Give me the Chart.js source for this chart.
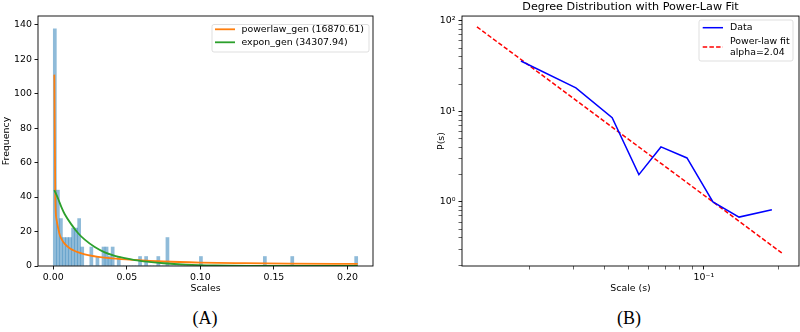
<!DOCTYPE html>
<html>
<head>
<meta charset="utf-8">
<title>Scale histogram and degree distribution</title>
<script src="https://cdn.jsdelivr.net/npm/chart.js"></script>
<style>
  body { margin: 0; background: #fff; width: 800px; height: 332px; position: relative; overflow: hidden; }
  .panel { position: absolute; top: 0; width: 400px; height: 300px; }
  #left { left: 0; }
  #right { left: 400px; }
  .tag { position: absolute; top: 308px; font-family: "Liberation Serif", serif; font-size: 18px;
         transform: translateX(-50%); color: #000; }
</style>
</head>
<body>
<div class="panel" id="left"><canvas id="histChart" width="400" height="300"></canvas></div>
<div class="panel" id="right"><canvas id="degreeChart" width="400" height="300"></canvas></div>
<div class="tag" style="left:205px">(A)</div>
<div class="tag" style="left:629px">(B)</div>

<script>
// ---- (A) histogram of scales with fitted pdfs ----
const nBins = 100;
const binWidth = 0.00207;
const binIndex   = [0, 1, 2, 3, 4, 5, 6, 7, 8, 9, 12, 14, 16, 17, 18, 19, 21, 28, 30, 34, 37, 48, 69, 78, 99];
const binDensity = [137.5, 44, 27.5, 16.5, 16.5, 16.5, 22, 22, 27.5, 11, 11, 5.5, 11, 11, 5.5, 11, 5.5,
                    5.5, 5.5, 5.5, 16.5, 5.5, 5.5, 5.5, 5.5];

const powerlawX = [0.0007, 0.0014, 0.0022, 0.0033, 0.0044, 0.0056, 0.0078, 0.0112, 0.0146, 0.0192,
                   0.0237, 0.0305, 0.040, 0.055, 0.075, 0.100, 0.130, 0.160, 0.207];
const powerlawY = [111, 38, 27, 22, 18, 15.6, 12.8, 10.3, 8.7, 7.3, 6.3, 5.3, 4.4, 3.5, 2.6, 2.0, 1.65, 1.4, 1.2];

const exponX = [0.0007, 0.0033, 0.0056, 0.0078, 0.0124, 0.0169, 0.0214, 0.0282, 0.035, 0.0418,
                0.0486, 0.0554, 0.065, 0.075, 0.090, 0.110, 0.140, 0.170, 0.207];
const exponY = [44, 39, 34, 30, 24, 19, 15.3, 11, 7.9, 5.9, 4.5, 3.4, 2.4, 1.6, 0.85, 0.35, 0.1, 0.03, 0.01];

const histXTicks = [0, 0.05, 0.10, 0.15, 0.20];
const histYTicks = [0, 20, 40, 60, 80, 100, 120, 140];

// ---- (B) degree distribution with power-law fit ----
const scaleS = [0.0184, 0.0306, 0.0428, 0.0548, 0.0672, 0.0855, 0.1087, 0.1384, 0.1875];
const probS  = [36, 18.2, 8.5, 2.0, 4.05, 3.06, 1.0, 0.68, 0.82];
const fitX = [0.01225, 0.2055];
const fitY = [85.9, 0.273];

const degXTicks = [0.02, 0.03, 0.04, 0.05, 0.06, 0.07, 0.08, 0.09, 0.1, 0.2];
const degYTicks = [0.2, 0.3, 0.4, 0.5, 0.6, 0.7, 0.8, 0.9, 1, 2, 3, 4, 5, 6, 7, 8, 9,
                   10, 20, 30, 40, 50, 60, 70, 80, 90, 100];
const degLabels = { 0.1: '10\u207B\u00B9', 1: '10\u2070', 10: '10\u00B9', 100: '10\u00B2' };

const font = { family: 'DejaVu Sans', size: 9.4 };

// box round the plot area, like matplotlib spines
const frame = {
  id: 'frame',
  afterDatasetsDraw(chart) {
    const { ctx, chartArea: a } = chart;
    ctx.save();
    ctx.strokeStyle = '#000';
    ctx.lineWidth = 0.9;
    ctx.strokeRect(a.left, a.top, a.right - a.left, a.bottom - a.top);
    ctx.restore();
  }
};

// legend drawn inside the axes
const boxLegend = {
  id: 'boxLegend',
  afterDraw(chart, args, o) {
    const ctx = chart.ctx;
    ctx.save();
    ctx.globalAlpha = 0.8;
    ctx.fillStyle = '#fff';
    ctx.strokeStyle = '#cccccc';
    ctx.lineWidth = 0.8;
    ctx.beginPath();
    ctx.roundRect(o.x, o.y, o.w, o.h, 2);
    ctx.fill();
    ctx.stroke();
    ctx.globalAlpha = 1;
    ctx.font = font.size + 'px "DejaVu Sans"';
    ctx.textBaseline = 'middle';
    ctx.fillStyle = '#000';
    o.rows.forEach(r => {
      const ds = chart.data.datasets[r.dataset];
      ctx.strokeStyle = ds.borderColor;
      ctx.lineWidth = ds.borderWidth;
      ctx.setLineDash(ds.borderDash || []);
      ctx.beginPath();
      ctx.moveTo(o.lineX[0], r.y);
      ctx.lineTo(o.lineX[1], r.y);
      ctx.stroke();
      ctx.setLineDash([]);
      const lines = ds.label.split('\n');
      const step = 10.8;
      lines.forEach((t, k) => {
        ctx.fillText(t, o.textX, r.y + (k - (lines.length - 1) / 2) * step);
      });
    });
    ctx.restore();
  }
};

function tickGrid() {
  return { display: true, drawOnChartArea: false, drawTicks: true, tickLength: 3.5,
           tickColor: '#000', tickWidth: 0.9, offset: false };
}

// ---- chart A ----
const histBars = [];
for (let i = 0; i < nBins; i++) histBars.push({ x: (i + 0.5) * binWidth, y: 0 });
binIndex.forEach((b, k) => { histBars[b].y = binDensity[k]; });

new Chart(document.getElementById('histChart'), {
  type: 'bar',
  data: {
    datasets: [
      { type: 'bar', label: 'data', data: histBars, backgroundColor: 'rgba(31,119,180,0.5)',
        borderWidth: 0, barPercentage: 1, categoryPercentage: 1, order: 3 },
      { type: 'line', label: 'powerlaw_gen (16870.61)', data: powerlawX.map((x, i) => ({ x, y: powerlawY[i] })),
        borderColor: '#ff7f0e', borderWidth: 1.8, pointRadius: 0, cubicInterpolationMode: 'monotone', order: 1 },
      { type: 'line', label: 'expon_gen (34307.94)', data: exponX.map((x, i) => ({ x, y: exponY[i] })),
        borderColor: '#2ca02c', borderWidth: 1.8, pointRadius: 0, cubicInterpolationMode: 'monotone', order: 0 }
    ]
  },
  options: {
    responsive: false,
    animation: false,
    layout: { padding: { left: 0, right: 27, top: 16, bottom: 0 } },
    scales: {
      x: {
        type: 'linear', min: -0.0104, max: 0.2174, offset: false,
        grid: tickGrid(), border: { display: false },
        afterBuildTicks: s => { s.ticks = histXTicks.map(v => ({ value: v })); },
        ticks: { color: '#000', font, padding: 2, maxRotation: 0, autoSkip: false, callback: v => v.toFixed(2) },
        title: { display: true, text: 'Scales', color: '#000', font, padding: { top: 0, bottom: 5.5 } },
        afterFit: s => { s.height = 34; }
      },
      y: {
        type: 'linear', min: 0, max: 145,
        grid: tickGrid(), border: { display: false },
        afterBuildTicks: s => { s.ticks = histYTicks.map(v => ({ value: v })); },
        ticks: { color: '#000', font, padding: 2.5, autoSkip: false },
        title: { display: true, text: 'Frequency', color: '#000', font, padding: { top: 0.5, bottom: 0 } },
        afterFit: s => { s.width = 38; }
      }
    },
    plugins: {
      legend: { display: false },
      tooltip: { enabled: false },
      boxLegend: { x: 212, y: 24.5, w: 157, h: 27.5, lineX: [215, 235], textX: 241.5,
                   rows: [{ dataset: 1, y: 29.3 }, { dataset: 2, y: 42.3 }] }
    }
  },
  plugins: [frame, boxLegend]
});

// ---- chart B ----
new Chart(document.getElementById('degreeChart'), {
  type: 'line',
  data: {
    datasets: [
      { label: 'Data', data: scaleS.map((x, i) => ({ x, y: probS[i] })),
        borderColor: '#0000ff', borderWidth: 1.5, pointRadius: 0, tension: 0 },
      { label: 'Power-law fit\nalpha=2.04', data: fitX.map((x, i) => ({ x, y: fitY[i] })),
        borderColor: '#ff0000', borderWidth: 1.5, borderDash: [4.5, 2.2], pointRadius: 0, tension: 0 }
    ]
  },
  options: {
    responsive: false,
    animation: false,
    layout: { padding: { left: 30, right: 1, top: 0, bottom: 0 } },
    scales: {
      x: {
        type: 'logarithmic', min: 0.01067, max: 0.241,
        grid: { ...tickGrid(), tickWidth: c => (degLabels[c.tick.value] ? 0.9 : 0.6) },
        border: { display: false },
        afterBuildTicks: s => { s.ticks = degXTicks.map(v => ({ value: v })); },
        ticks: { color: '#000', font, padding: 2, maxRotation: 0, autoSkip: false,
                 callback: v => degLabels[v] || '' },
        title: { display: true, text: 'Scale (s)', color: '#000', font, padding: { top: 0, bottom: 5.5 } },
        afterFit: s => { s.height = 34; }
      },
      y: {
        type: 'logarithmic', min: 0.196, max: 113,
        grid: { ...tickGrid(), tickWidth: c => (degLabels[c.tick.value] ? 0.9 : 0.6) },
        border: { display: false },
        afterBuildTicks: s => { s.ticks = degYTicks.map(v => ({ value: v })); },
        ticks: { color: '#000', font, padding: 3, autoSkip: false, callback: v => degLabels[v] || '' },
        title: { display: true, text: 'P(s)', color: '#000', font, padding: { top: 5.5, bottom: 0 } },
        afterFit: s => { s.width = 32; }
      }
    },
    plugins: {
      legend: { display: false },
      tooltip: { enabled: false },
      title: { display: true, fullSize: false, text: 'Degree Distribution with Power-Law Fit', color: '#000',
               font: { family: 'DejaVu Sans', size: 11.2, weight: 'normal' }, padding: { top: 0.3, bottom: 2.3 } },
      boxLegend: { x: 299, y: 20, w: 94, h: 41, lineX: [302.7, 323], textX: 330,
                   rows: [{ dataset: 0, y: 27.7 }, { dataset: 1, y: 47 }] }
    }
  },
  plugins: [frame, boxLegend]
});
</script>
</body>
</html>
